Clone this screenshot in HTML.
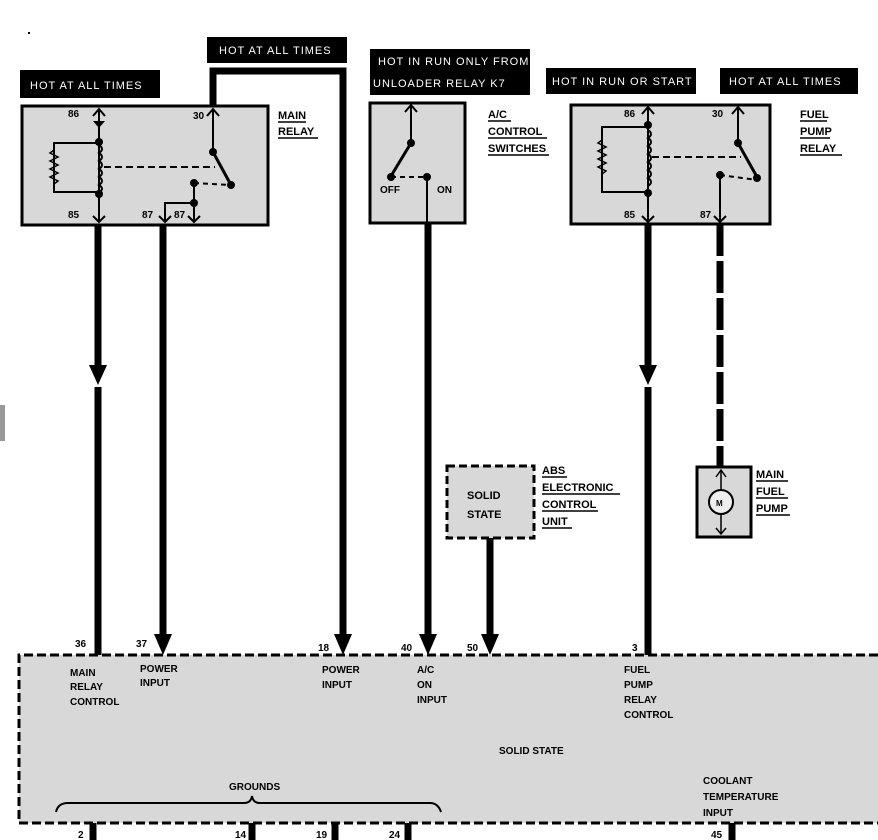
<!DOCTYPE html>
<html><head><meta charset="utf-8"><style>
html,body{margin:0;padding:0;background:#fff;}
svg{display:block;font-family:"Liberation Sans",sans-serif;font-weight:bold;}
.l{font-size:11px;fill:#fff;font-weight:normal;letter-spacing:1px;}
.t{font-size:11px;fill:#000;}
.s{font-size:10px;fill:#000;}
</style></head><body>
<svg width="878" height="840" viewBox="0 0 878 840" xmlns="http://www.w3.org/2000/svg">
<rect x="0" y="405" width="5" height="36" fill="#999"/>
<rect x="28" y="32" width="2" height="2" fill="#000"/>

<rect x="20" y="70" width="140" height="28" fill="#000"/>
<text x="30" y="89" class="l">HOT AT ALL TIMES</text>
<rect x="207" y="37" width="140" height="26" fill="#000"/>
<text x="219" y="54" class="l">HOT AT ALL TIMES</text>
<rect x="370" y="49" width="160" height="46" fill="#000"/>
<text x="378" y="65" class="l">HOT IN RUN ONLY FROM</text>
<text x="373" y="87" class="l">UNLOADER RELAY K7</text>
<rect x="546" y="68" width="150" height="26" fill="#000"/>
<text x="552" y="85" class="l">HOT IN RUN OR START</text>
<rect x="720" y="68" width="138" height="26" fill="#000"/>
<text x="729" y="85" class="l">HOT AT ALL TIMES</text>

<rect x="22" y="106" width="246" height="119" fill="#d8d8d8" stroke="#000" stroke-width="3"/>
<rect x="370" y="103" width="95" height="120" fill="#d8d8d8" stroke="#000" stroke-width="3"/>
<rect x="571" y="105" width="199" height="119" fill="#d8d8d8" stroke="#000" stroke-width="3"/>
<rect x="447" y="466" width="87" height="72" fill="#d8d8d8" stroke="#000" stroke-width="3" stroke-dasharray="8 4"/>
<rect x="697" y="467" width="54" height="70" fill="#d8d8d8" stroke="#000" stroke-width="3"/>
<path d="M878 655 H19 V823 H878" fill="#d8d8d8" stroke="#000" stroke-width="3" stroke-dasharray="9 4"/>

<g class="t">
<text x="278" y="119">MAIN</text><text x="278" y="135">RELAY</text>
<text x="488" y="118">A/C</text><text x="488" y="135">CONTROL</text><text x="488" y="152">SWITCHES</text>
<text x="800" y="118">FUEL</text><text x="800" y="135">PUMP</text><text x="800" y="152">RELAY</text>
<text x="542" y="474">ABS</text><text x="542" y="491">ELECTRONIC</text><text x="542" y="508">CONTROL</text><text x="542" y="525">UNIT</text>
<text x="756" y="478">MAIN</text><text x="756" y="495">FUEL</text><text x="756" y="512">PUMP</text>
</g>
<g stroke="#000" stroke-width="1.5">
<line x1="278" y1="122" x2="306" y2="122"/><line x1="278" y1="138" x2="318" y2="138"/>
<line x1="488" y1="121" x2="511" y2="121"/><line x1="488" y1="138" x2="547" y2="138"/><line x1="488" y1="155" x2="549" y2="155"/>
<line x1="800" y1="121" x2="827" y2="121"/><line x1="800" y1="138" x2="830" y2="138"/><line x1="800" y1="155" x2="842" y2="155"/>
<line x1="542" y1="477" x2="567" y2="477"/><line x1="542" y1="494" x2="620" y2="494"/><line x1="542" y1="511" x2="598" y2="511"/><line x1="542" y1="528" x2="572" y2="528"/>
<line x1="756" y1="481" x2="788" y2="481"/><line x1="756" y1="498" x2="788" y2="498"/><line x1="756" y1="515" x2="790" y2="515"/>
</g>

<g stroke="#000" stroke-width="2" fill="none">
<line x1="99" y1="110" x2="99" y2="222"/>
<path d="M93 116 L99 109 L105 116"/>
<path d="M93 216 L99 222 L105 216"/>
<path d="M99 143 H54 V192 H99"/>
<path d="M54 150 l-4 3 l8 4 l-8 4 l8 4 l-8 4 l8 4 l-8 4 l8 4 l-4 3" stroke-width="1.5"/>
<path d="M99 145 q6 4 0 8 q6 4 0 8 q6 4 0 8 q6 4 0 8 q6 4 0 8 q6 4 0 7"/>
<line x1="104" y1="167" x2="215" y2="167" stroke-dasharray="7 4"/>
<line x1="213" y1="110" x2="213" y2="152"/>
<path d="M207 116 L213 109 L219 116"/>
<line x1="213" y1="152" x2="231" y2="185" stroke-width="3"/>
<line x1="194" y1="183" x2="231" y2="185" stroke-dasharray="5 4"/>
<line x1="194" y1="183" x2="194" y2="222"/>
<path d="M194 203 H165 V222"/>
<path d="M188 216 L194 222 L200 216"/>
<path d="M159 216 L165 222 L171 216"/>
</g>
<polygon points="93,121 105,121 99,128" fill="#000"/>
<g fill="#000">
<circle cx="99" cy="142" r="4"/><circle cx="99" cy="194" r="4"/>
<circle cx="213" cy="152" r="4"/><circle cx="231" cy="185" r="4"/>
<circle cx="194" cy="183" r="4"/><circle cx="194" cy="203" r="4"/>
</g>
<g class="s"><text x="68" y="117">86</text><text x="193" y="119">30</text><text x="68" y="218">85</text><text x="142" y="218">87</text><text x="174" y="218">87</text></g>

<g stroke="#000" stroke-width="2" fill="none">
<line x1="411" y1="106" x2="411" y2="143"/>
<path d="M405 112 L411 105 L417 112"/>
<line x1="411" y1="143" x2="391" y2="176" stroke-width="3"/>
<line x1="391" y1="177" x2="427" y2="177" stroke-dasharray="5 4"/>
<line x1="427" y1="177" x2="427" y2="224"/>
</g>
<g fill="#000"><circle cx="411" cy="143" r="4"/><circle cx="391" cy="177" r="4"/><circle cx="427" cy="177" r="4"/></g>
<g class="s"><text x="380" y="193">OFF</text><text x="437" y="193">ON</text></g>

<g stroke="#000" stroke-width="2" fill="none">
<line x1="648" y1="108" x2="648" y2="222"/>
<path d="M642 114 L648 107 L654 114"/>
<path d="M642 216 L648 222 L654 216"/>
<path d="M648 127 H602 V192 H648"/>
<path d="M602 140 l-4 3 l8 4 l-8 4 l8 4 l-8 4 l8 4 l-8 4 l8 4 l-4 3" stroke-width="1.5"/>
<path d="M648 130 q6 4 0 8 q6 4 0 8 q6 4 0 8 q6 4 0 8 q6 4 0 8 q6 4 0 8 q6 4 0 8"/>
<line x1="652" y1="157" x2="741" y2="157" stroke-dasharray="7 4"/>
<line x1="738" y1="108" x2="738" y2="143"/>
<path d="M732 114 L738 107 L744 114"/>
<line x1="738" y1="143" x2="757" y2="177" stroke-width="3"/>
<line x1="720" y1="175" x2="757" y2="180" stroke-dasharray="5 4"/>
<line x1="720" y1="175" x2="720" y2="222"/>
<path d="M714 216 L720 222 L726 216"/>
</g>
<g fill="#000"><circle cx="648" cy="125" r="4"/><circle cx="648" cy="193" r="4"/><circle cx="738" cy="143" r="4"/><circle cx="757" cy="178" r="4"/><circle cx="720" cy="175" r="4"/></g>
<g class="s"><text x="624" y="117">86</text><text x="712" y="117">30</text><text x="624" y="218">85</text><text x="700" y="218">87</text></g>

<g stroke="#000" stroke-width="7" fill="none">
<line x1="98" y1="225" x2="98" y2="368"/>
<line x1="98" y1="387" x2="98" y2="655"/>
<line x1="163" y1="225" x2="163" y2="638"/>
<path d="M213 106 V71 H343 V638"/>
<line x1="428" y1="223" x2="428" y2="638"/>
<line x1="490" y1="538" x2="490" y2="638"/>
<line x1="648" y1="224" x2="648" y2="368"/>
<line x1="648" y1="387" x2="648" y2="655"/>
<line x1="720" y1="224" x2="720" y2="467" stroke-dasharray="32 5"/>
<line x1="93" y1="823" x2="93" y2="840"/>
<line x1="252" y1="823" x2="252" y2="840"/>
<line x1="335" y1="823" x2="335" y2="840"/>
<line x1="408" y1="823" x2="408" y2="840"/>
<line x1="732" y1="823" x2="732" y2="840"/>
</g>
<g fill="#000">
<polygon points="89,365 107,365 98,385"/>
<polygon points="639,365 657,365 648,385"/>
<polygon points="154,634 172,634 163,655"/>
<polygon points="334,634 352,634 343,655"/>
<polygon points="419,634 437,634 428,655"/>
<polygon points="481,634 499,634 490,655"/>
</g>

<g stroke="#000" stroke-width="1.5" fill="none">
<line x1="721" y1="470" x2="721" y2="534"/>
<path d="M716 477 L721 470 L726 477"/><path d="M716 528 L721 534 L726 528"/>
<circle cx="721" cy="502" r="12" fill="#eee" stroke-width="2"/>
</g>
<text x="716" y="506" style="font-size:8px">M</text>
<g class="t"><text x="467" y="499">SOLID</text><text x="467" y="518">STATE</text></g>

<g class="s">
<text x="75" y="647">36</text><text x="136" y="647">37</text><text x="318" y="651">18</text><text x="401" y="651">40</text><text x="467" y="651">50</text><text x="632" y="651">3</text>
<text x="70" y="676">MAIN</text><text x="70" y="690">RELAY</text><text x="70" y="705">CONTROL</text>
<text x="140" y="672">POWER</text><text x="140" y="686">INPUT</text>
<text x="322" y="673">POWER</text><text x="322" y="688">INPUT</text>
<text x="417" y="673">A/C</text><text x="417" y="688">ON</text><text x="417" y="703">INPUT</text>
<text x="624" y="673">FUEL</text><text x="624" y="688">PUMP</text><text x="624" y="703">RELAY</text><text x="624" y="718">CONTROL</text>
<text x="499" y="754">SOLID STATE</text>
<text x="229" y="790">GROUNDS</text>
<text x="703" y="784">COOLANT</text><text x="703" y="800">TEMPERATURE</text><text x="703" y="816">INPUT</text>
<text x="78" y="838">2</text><text x="235" y="838">14</text><text x="316" y="838">19</text><text x="389" y="838">24</text><text x="711" y="838">45</text>
</g>
<path d="M56 812 Q58 803 68 803 H244 Q251 803 252 796 Q253 803 260 803 H430 Q438 803 441 812" stroke="#000" stroke-width="2" fill="none"/>
</svg>
</body></html>
